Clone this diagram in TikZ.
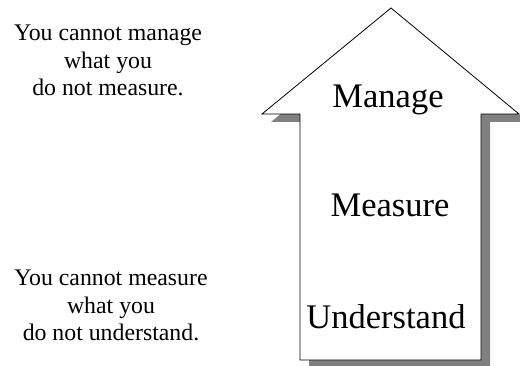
\documentclass[tikz,border=0pt]{standalone}
\usepackage{fontspec}
\setmainfont{Liberation Serif}
\usepackage{tikz}
\usetikzlibrary{positioning}

\begin{document}
\begin{tikzpicture}[x=1pt,y=1pt,
	saying/.style={align=center,inner sep=0pt,anchor=north,font=\fontsize{23.8}{27.5}\selectfont},
	stage/.style={inner sep=0pt,anchor=base,font=\fontsize{34.5}{40}\selectfont}]
\useasboundingbox (0,0) rectangle (520,365);
% shadow, then the arrow itself
\fill[black!50,xshift=9,yshift=-8] (391,357) -- (519,251) -- (481,251) -- (481,5)
	-- (300,5) -- (300,251) -- (262,251) -- cycle;
\draw[line width=0.8pt,fill=white] (391,357) -- (519,251) -- (481,251) -- (481,5)
	-- (300,5) -- (300,251) -- (262,251) -- cycle;

\node[stage](manage) at (388,258) {Manage};
\node[stage](measure) at (390,149) {Measure};
\node[stage](understand) at (386,37) {Understand};

\node[saying](top) at (108,340) {You cannot manage\\what you\\do not measure.};
\node[saying](bottom) at (111,95) {You cannot measure\\what you\\do not understand.};
\end{tikzpicture}
\end{document}
